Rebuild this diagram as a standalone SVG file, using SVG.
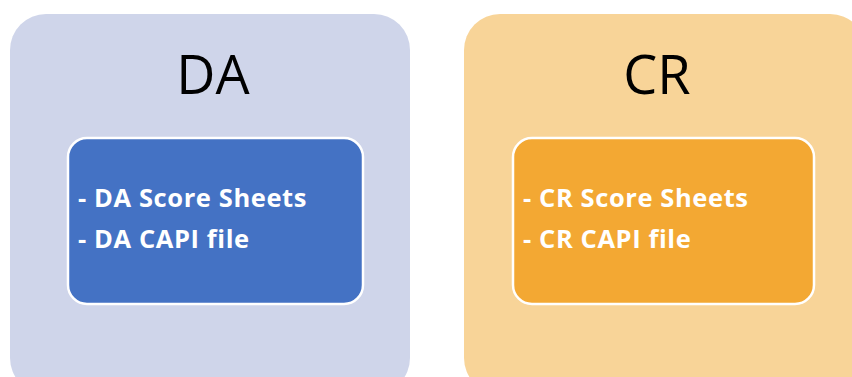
<svg xmlns="http://www.w3.org/2000/svg" width="852" height="377" viewBox="0 0 852 377">
  <style>
    .panel-da { fill: #CFD5EA; }
    .panel-cr { fill: #F8D498; }
    .box { stroke: #FFFFFF; stroke-width: 2.5; }
    .box-da { fill: #4472C4; }
    .box-cr { fill: #F3A833; }
    .title { font-family: "Open Sans", "Noto Sans", sans-serif; font-size: 54px; fill: #000000; text-anchor: middle; }
    .item { font-family: "Open Sans", "Noto Sans", sans-serif; font-size: 25.5px; font-weight: bold; letter-spacing: 0.6px; fill: #FFFFFF; }
  </style>
  <rect width="852" height="377" fill="#FFFFFF"/>

  <!-- DA group -->
  <g id="node-da">
    <rect class="panel-da" x="10" y="14" width="400" height="380" rx="36" ry="36"/>
    <text class="title" x="213" y="94">DA</text>
  </g>
  <g id="node-da-items">
    <rect class="box box-da" x="68" y="138" width="295" height="166" rx="19" ry="19"/>
    <text class="item" x="78" y="207">- DA Score Sheets</text>
    <text class="item" x="78" y="248">- DA CAPI file</text>
  </g>

  <!-- CR group -->
  <g id="node-cr">
    <rect class="panel-cr" x="464" y="14" width="402" height="380" rx="36" ry="36"/>
    <text class="title" x="657" y="94">CR</text>
  </g>
  <g id="node-cr-items">
    <rect class="box box-cr" x="513" y="138" width="301" height="166" rx="19" ry="19"/>
    <text class="item" x="523" y="207">- CR Score Sheets</text>
    <text class="item" x="523" y="248">- CR CAPI file</text>
  </g>

  <g id="connectors"></g>
</svg>
